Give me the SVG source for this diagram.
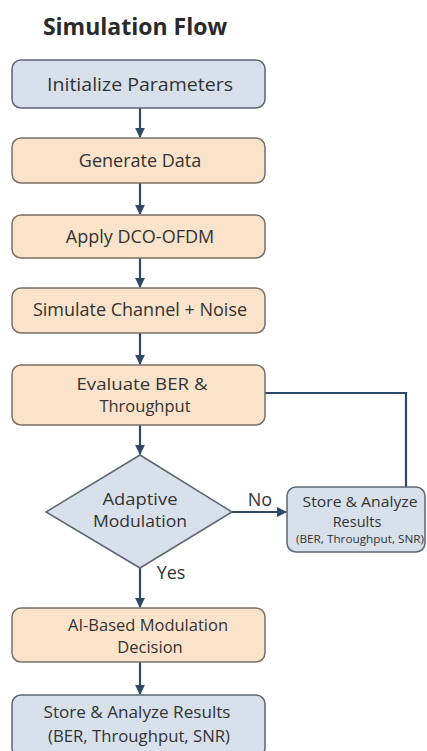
<svg xmlns="http://www.w3.org/2000/svg" width="427" height="751" viewBox="0 0 427 751">
<defs>
<marker id="ah" viewBox="0 0 10 10" refX="9" refY="5" markerWidth="4.5" markerHeight="4.5" orient="auto-start-reverse" markerUnits="strokeWidth">
<path d="M0,0 L10,5 L0,10 z" fill="#2f4a66"/>
</marker>
<style>
.blue{fill:#d8e0eb;stroke:#5c6675;stroke-width:1.5}
.peach{fill:#fbe3cb;stroke:#7a7066;stroke-width:1.5}
.t{font-family:"Open Sans","Noto Sans",sans-serif;font-size:18px;fill:#333;text-anchor:middle}
.m{font-family:"Open Sans","Noto Sans",sans-serif;font-size:16.5px;fill:#333;text-anchor:middle}
.s{font-family:"Open Sans","Noto Sans",sans-serif;font-size:14.5px;fill:#333;text-anchor:middle}
.l{font-family:"Open Sans","Noto Sans",sans-serif;font-size:18px;fill:#333;text-anchor:middle}
.xs{font-family:"Open Sans","Noto Sans",sans-serif;font-size:10px;fill:#333;text-anchor:middle}
.c{fill:none;stroke:#2f4a66;stroke-width:2.2}
</style>
</defs>
<rect width="427" height="751" fill="#ffffff"/>
<text x="135" y="35" style="font-family:'Open Sans','Noto Sans',sans-serif;font-size:23px;font-weight:bold;fill:#2a2a2a;text-anchor:middle">Simulation Flow</text>

<g id="connectors">
<line class="c" x1="140" y1="108" x2="140" y2="137" marker-end="url(#ah)"/>
<line class="c" x1="140" y1="183" x2="140" y2="214" marker-end="url(#ah)"/>
<line class="c" x1="140" y1="258" x2="140" y2="287" marker-end="url(#ah)"/>
<line class="c" x1="140" y1="333" x2="140" y2="364" marker-end="url(#ah)"/>
<line class="c" x1="140" y1="425" x2="140" y2="454" marker-end="url(#ah)"/>
<line class="c" x1="232" y1="512" x2="286" y2="512" marker-end="url(#ah)"/>
<line class="c" x1="140" y1="568" x2="140" y2="607" marker-end="url(#ah)"/>
<line class="c" x1="140" y1="662" x2="140" y2="694" marker-end="url(#ah)"/>
<polyline class="c" points="265,393 406,393 406,487"/>
<text x="260" y="506" class="l">No</text>
<text x="171" y="579" class="l">Yes</text>
</g>

<g id="n1"><rect class="blue" x="12" y="60" width="253" height="48" rx="9"/><text class="t" x="140" y="91" textLength="186" lengthAdjust="spacingAndGlyphs">Initialize Parameters</text></g>
<g id="n2"><rect class="peach" x="12" y="138" width="253" height="45" rx="9"/><text class="t" x="140" y="167">Generate Data</text></g>
<g id="n3"><rect class="peach" x="12" y="215" width="253" height="43" rx="9"/><text class="t" x="140" y="243">Apply DCO-OFDM</text></g>
<g id="n4"><rect class="peach" x="12" y="288" width="253" height="45" rx="9"/><text class="t" x="140" y="316">Simulate Channel + Noise</text></g>
<g id="n5"><rect class="peach" x="12" y="365" width="253" height="60" rx="9"/><text class="m" x="142" y="390" textLength="131" lengthAdjust="spacingAndGlyphs">Evaluate BER &amp;</text><text class="m" x="145" y="412">Throughput</text></g>
<g id="n6"><polygon class="blue" points="140,455 232,512 140,568 46,512"/><text class="m" x="140" y="505" textLength="75" lengthAdjust="spacingAndGlyphs">Adaptive</text><text class="m" x="140" y="527" textLength="94" lengthAdjust="spacingAndGlyphs">Modulation</text></g>
<g id="n7"><rect class="blue" x="287" y="487" width="138" height="65" rx="9"/><text class="s" x="360" y="507" textLength="115" lengthAdjust="spacingAndGlyphs">Store &amp; Analyze</text><text class="s" x="357" y="527">Results</text><text class="xs" x="360" y="543" textLength="128" lengthAdjust="spacingAndGlyphs">(BER, Throughput, SNR)</text></g>
<g id="n8"><rect class="peach" x="12" y="608" width="253" height="54" rx="9"/><text class="m" x="148" y="631" textLength="160" lengthAdjust="spacingAndGlyphs">AI-Based Modulation</text><text class="m" x="150" y="653">Decision</text></g>
<g id="n9"><rect class="blue" x="12" y="695" width="253" height="62" rx="9"/><text class="m" x="137" y="718" textLength="187" lengthAdjust="spacingAndGlyphs">Store &amp; Analyze Results</text><text class="m" x="139" y="742" textLength="182" lengthAdjust="spacingAndGlyphs">(BER, Throughput, SNR)</text></g>
</svg>
